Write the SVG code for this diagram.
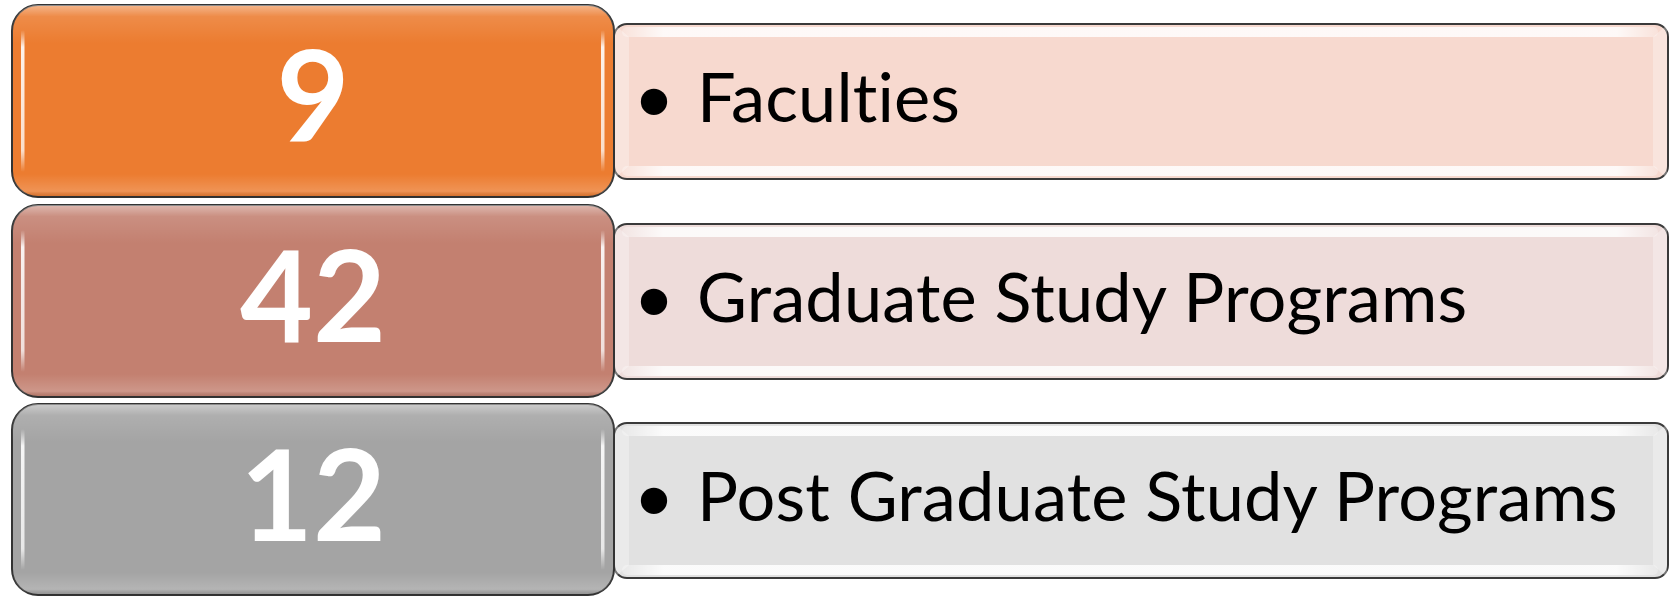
<svg xmlns="http://www.w3.org/2000/svg" width="1670" height="596" viewBox="0 0 1670 596">
  <defs>
    <linearGradient id="gloss" x1="0" y1="0" x2="0" y2="1">
      <stop offset="0" stop-color="#ffffff" stop-opacity="0.45"/>
      <stop offset="0.06" stop-color="#ffffff" stop-opacity="0.12"/>
      <stop offset="0.2" stop-color="#ffffff" stop-opacity="0"/>
      <stop offset="0.88" stop-color="#ffffff" stop-opacity="0"/>
      <stop offset="0.97" stop-color="#ffffff" stop-opacity="0.18"/>
      <stop offset="1" stop-color="#000000" stop-opacity="0.1"/>
    </linearGradient>
    <linearGradient id="vline" x1="0" y1="0" x2="0" y2="1">
      <stop offset="0" stop-color="#ffffff" stop-opacity="0"/>
      <stop offset="0.12" stop-color="#ffffff" stop-opacity="0.9"/>
      <stop offset="0.85" stop-color="#ffffff" stop-opacity="0.75"/>
      <stop offset="1" stop-color="#ffffff" stop-opacity="0"/>
    </linearGradient>
    <linearGradient id="hband" x1="0" y1="0" x2="1" y2="0">
      <stop offset="0" stop-color="#ffffff" stop-opacity="0.25"/>
      <stop offset="0.04" stop-color="#ffffff" stop-opacity="0.85"/>
      <stop offset="0.96" stop-color="#ffffff" stop-opacity="0.85"/>
      <stop offset="1" stop-color="#ffffff" stop-opacity="0.25"/>
    </linearGradient>
  </defs>
  <style>
    .lbox { stroke: #333333; stroke-width: 2; }
    .rbox { stroke: #3a3a3a; stroke-width: 2; }
    .num { font-family: Lato, "Open Sans", sans-serif; font-weight: 700; font-size: 126px; fill: #ffffff; text-anchor: middle; }
    .lbl { font-family: Lato, "Liberation Sans", sans-serif; font-size: 68.5px; fill: #000000; font-variant-ligatures: none; font-feature-settings: "liga" 0; letter-spacing: 0.15px; }
    .bul { font-family: "Liberation Sans", sans-serif; font-size: 97px; fill: #000000; text-anchor: middle; }
    .band { fill: url(#hband); }
    .side { fill: #ffffff; fill-opacity: 0.3; }
    .vl { fill: url(#vline); }
  </style>

  <g id="row1-detail">
    <rect class="rbox" x="614" y="24" width="1054" height="155" rx="13" fill="#F7D9CF"/>
    <polygon class="side" points="615,25 629,37 629,166 615,178"/>
    <polygon class="side" points="1667,25 1653,37 1653,166 1667,178"/>
    <rect class="band" x="622" y="27" width="1036" height="10" rx="5"/>
    <rect class="band" x="622" y="166" width="1036" height="10" rx="5"/>
    <text class="bul" x="654" y="134">•</text>
    <text class="lbl" x="697" y="122">Faculties</text>
  </g>
  <g id="row2-detail">
    <rect class="rbox" x="614" y="224" width="1054" height="155" rx="13" fill="#EEDCDA"/>
    <polygon class="side" points="615,225 629,237 629,366 615,378"/>
    <polygon class="side" points="1667,225 1653,237 1653,366 1667,378"/>
    <rect class="band" x="622" y="227" width="1036" height="10" rx="5"/>
    <rect class="band" x="622" y="366" width="1036" height="10" rx="5"/>
    <text class="bul" x="654" y="334">•</text>
    <text class="lbl" x="697" y="322">Graduate Study Programs</text>
  </g>
  <g id="row3-detail">
    <rect class="rbox" x="614" y="423" width="1054" height="155" rx="13" fill="#E1E1E1"/>
    <polygon class="side" points="615,424 629,436 629,565 615,577"/>
    <polygon class="side" points="1667,424 1653,436 1653,565 1667,577"/>
    <rect class="band" x="622" y="426" width="1036" height="10" rx="5"/>
    <rect class="band" x="622" y="565" width="1036" height="10" rx="5"/>
    <text class="bul" x="654" y="533">•</text>
    <text class="lbl" x="697" y="521">Post Graduate Study Programs</text>
  </g>

  <g id="row1-number">
    <rect class="lbox" x="12" y="5" width="602" height="192" rx="26" fill="#EC7C30"/>
    <rect x="12" y="5" width="602" height="192" rx="26" fill="url(#gloss)"/>
    <rect class="vl" x="21" y="30" width="3.5" height="142" rx="1.7"/>
    <rect class="vl" x="601" y="30" width="3.5" height="142" rx="1.7"/>
    <text class="num" x="313" y="142">9</text>
  </g>
  <g id="row2-number">
    <rect class="lbox" x="12" y="205" width="602" height="192" rx="26" fill="#C38070"/>
    <rect x="12" y="205" width="602" height="192" rx="26" fill="url(#gloss)"/>
    <rect class="vl" x="21" y="230" width="3.5" height="142" rx="1.7"/>
    <rect class="vl" x="601" y="230" width="3.5" height="142" rx="1.7"/>
    <text class="num" x="313" y="342">42</text>
  </g>
  <g id="row3-number">
    <rect class="lbox" x="12" y="404" width="602" height="191" rx="26" fill="#A4A4A4"/>
    <rect x="12" y="404" width="602" height="191" rx="26" fill="url(#gloss)"/>
    <rect class="vl" x="21" y="429" width="3.5" height="141" rx="1.7"/>
    <rect class="vl" x="601" y="429" width="3.5" height="141" rx="1.7"/>
    <text class="num" x="313" y="541">12</text>
  </g>

  <g id="connectors"></g>
</svg>
